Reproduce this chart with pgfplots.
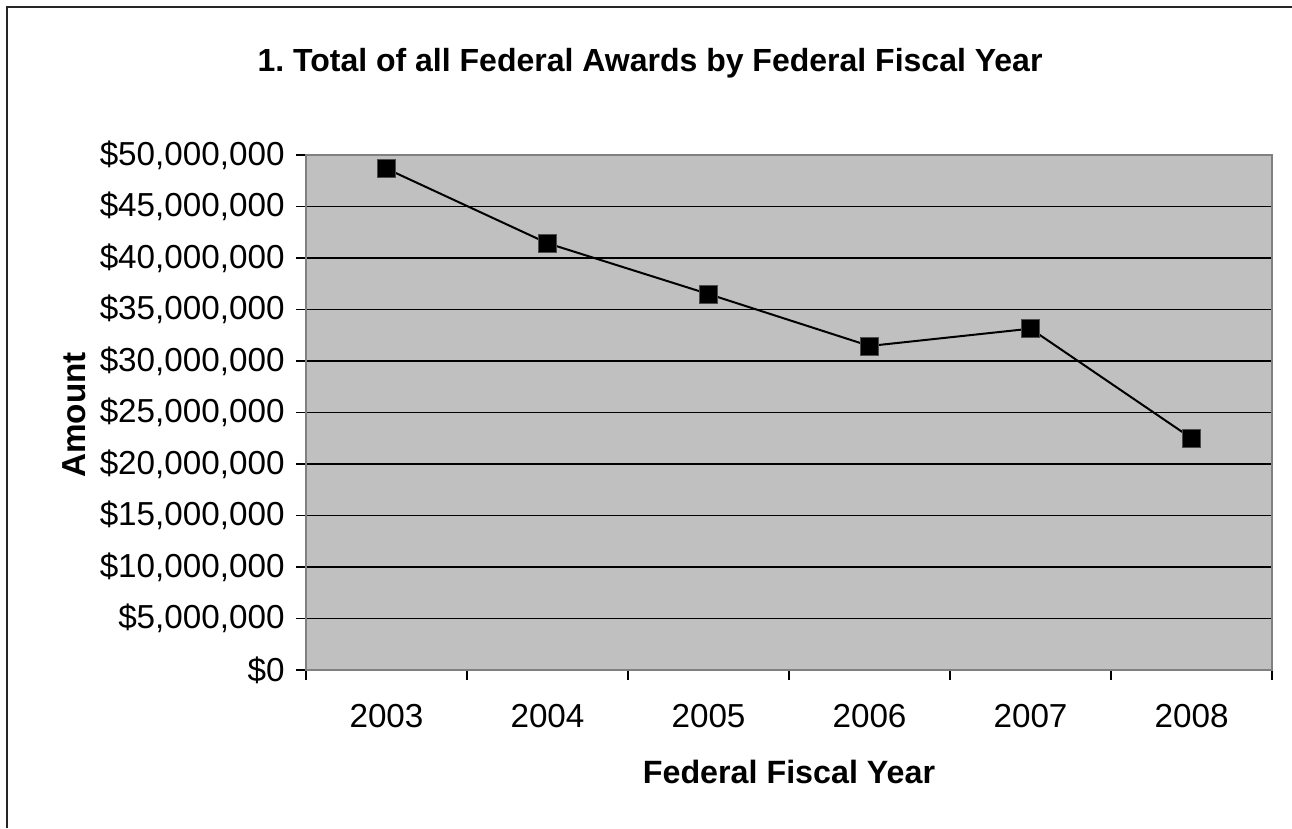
\documentclass[border=0pt]{standalone}
\usepackage{pgfplots}
\pgfplotsset{compat=1.18}
\usepackage{fontspec}
\setmainfont{Liberation Sans}
\definecolor{plotbg}{HTML}{C0C0C0}
\definecolor{axgray}{HTML}{808080}
\begin{document}
\frenchspacing
\begin{tikzpicture}[x=0.4pt,y=0.4pt]
\useasboundingbox (0,0) rectangle (1292,828);
\draw[line width=0.9pt,black!85] (7,0) -- (7,821) -- (1292,821);
\node[font=\fontsize{12.8}{14}\selectfont\bfseries] at (650,828-63) {1. Total of all Federal Awards by Federal Fiscal Year};
\node[font=\fontsize{12.9}{14}\selectfont\bfseries] at (789,828-772) {Federal Fiscal Year};
\node[font=\fontsize{13.3}{14}\selectfont\bfseries,rotate=90] at (74,828-415) {Amount};
\begin{axis}[
  at={(306*0.4pt,158*0.4pt)}, anchor=south west,
  scale only axis, width=386.4pt, height=206pt,
  xmin=-0.5, xmax=5.5, ymin=0, ymax=50000000,
  axis background/.style={fill=plotbg},
  axis line style={axgray, line width=0.8pt},
  xtick pos=bottom, ytick pos=left,
  xtick={0,1,2,3,4,5},
  xticklabels={2003,2004,2005,2006,2007,2008},
  minor xtick={-0.5,0.5,1.5,2.5,3.5,4.5,5.5},
  major x tick style={draw=none},
  minor x tick style={black, line width=0.5pt},
  minor tick length=4pt,
  ytick={0,5000000,10000000,15000000,20000000,25000000,30000000,35000000,40000000,45000000,50000000},
  yticklabels={\$0,{\$5,000,000},{\$10,000,000},{\$15,000,000},{\$20,000,000},{\$25,000,000},{\$30,000,000},{\$35,000,000},{\$40,000,000},{\$45,000,000},{\$50,000,000}},
  ytick style={black, line width=0.5pt},
  tick align=outside, major tick length=4pt,
  ymajorgrids, grid style={black, line width=0.5pt},
  tick label style={font=\fontsize{13.3}{15}\selectfont},
  xticklabel style={yshift=-6pt},
  yticklabel style={xshift=-1pt},
  scaled y ticks=false,
  clip=false,
]
\addplot[black, line width=0.8pt, mark=square*, mark size=3.6pt, mark options={fill=black, draw=black!70, line width=0.3pt}]
 coordinates {(0,48670000) (1,41430000) (2,36500000) (3,31460000) (4,33140000) (5,22500000)};
\end{axis}
\end{tikzpicture}
\end{document}
